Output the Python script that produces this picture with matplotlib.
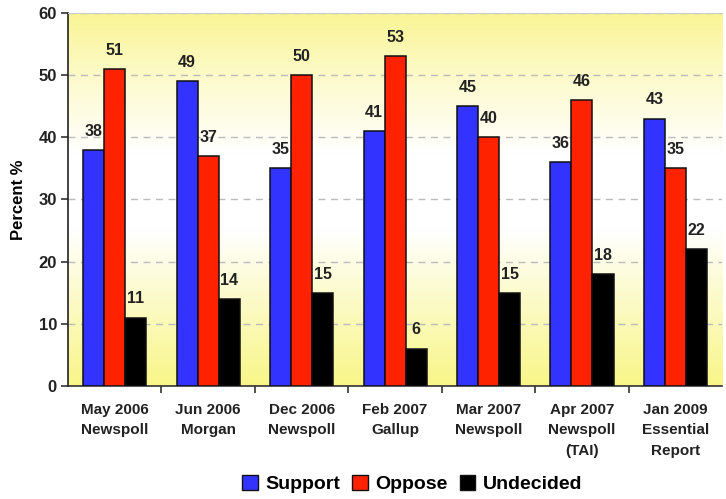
import numpy as np
import matplotlib.pyplot as plt
from matplotlib.colors import LinearSegmentedColormap
from matplotlib.patches import Patch

plt.rcParams['font.family'] = ['Liberation Sans', 'DejaVu Sans']
plt.rcParams['font.weight'] = 'bold'

# poll results
polls = ['May 2006\nNewspoll', 'Jun 2006\nMorgan', 'Dec 2006\nNewspoll',
         'Feb 2007\nGallup', 'Mar 2007\nNewspoll', 'Apr 2007\nNewspoll\n(TAI)',
         'Jan 2009\nEssential\nReport']
support = [38, 49, 35, 41, 45, 36, 43]
oppose = [51, 37, 50, 53, 40, 46, 35]
undecided = [11, 14, 15, 6, 15, 18, 22]

fig = plt.figure(figsize=(7.26, 4.99), dpi=100)
ax = fig.add_axes([0.0937, 0.2265, 0.901, 0.7475])

# yellow -> white -> yellow background
cmap = LinearSegmentedColormap.from_list(
    'bg', [(0.0, '#f8f688'), (0.3, '#fdfcdc'), (0.42, '#ffffff'),
           (0.62, '#ffffff'), (0.8, '#fdfbd2'), (1.0, '#f9f594')])
grad = np.linspace(0, 1, 256).reshape(-1, 1)
ax.imshow(grad, aspect='auto', cmap=cmap, origin='lower',
          extent=[0, 1, 0, 1], transform=ax.transAxes, zorder=0)

x = np.arange(len(polls))
w = 0.225
series = [(support, '#3333ff', 'Support'), (oppose, '#ff2200', 'Oppose'),
          (undecided, '#000000', 'Undecided')]
for i, (vals, col, name) in enumerate(series):
    pos = x + (i - 1) * w
    ax.bar(pos, vals, width=w, color=col, edgecolor='#111111', linewidth=1.1, zorder=3)
    for p, v in zip(pos, vals):
        ax.text(p, v + 1.8, str(v), ha='center', va='bottom', fontsize=11.5,
                fontweight='bold', color='#222222', zorder=4)

ax.set_xlim(-0.5, len(polls) - 0.5)
ax.set_ylim(0, 60)
ax.set_yticks(range(0, 61, 10))
ax.yaxis.grid(True, linestyle=(0, (5, 4)), color='#bbbbbb', linewidth=1, zorder=1)
ax.set_axisbelow(True)

ax.set_xticks(x)
ax.set_xticklabels(polls, fontsize=11, fontweight='bold', color='#222222', linespacing=1.6)
ax.set_xticks(np.arange(0.5, len(polls) - 0.5, 1), minor=True)
ax.tick_params(axis='x', which='major', length=0, pad=12)
ax.tick_params(axis='x', which='minor', length=5, width=1.2, color='#333333', direction='out')
ax.tick_params(axis='y', labelsize=12, length=5, width=1.2, color='#333333',
               labelcolor='#222222', pad=3)
for t in ax.get_yticklabels():
    t.set_fontweight('bold')

ax.spines['top'].set_color('#cccccc')
ax.spines['right'].set_visible(False)
ax.spines['left'].set_color('#222222')
ax.spines['left'].set_linewidth(1.2)
ax.spines['bottom'].set_color('#333333')
ax.spines['bottom'].set_linewidth(1.2)

ax.set_ylabel('Percent %', fontsize=12, fontweight='bold', labelpad=9)

handles = [Patch(facecolor=c, edgecolor='#111111', label=n) for _, c, n in series]
fig.legend(handles=handles, loc='center', bbox_to_anchor=(0.568, 0.03), ncol=3,
           frameon=False, prop={'weight': 'bold', 'size': 14}, handlelength=0.8,
           handleheight=0.8, handletextpad=0.4, columnspacing=0.6,
           borderpad=0, borderaxespad=0)

fig.savefig('out.png', dpi=100, facecolor='white')
